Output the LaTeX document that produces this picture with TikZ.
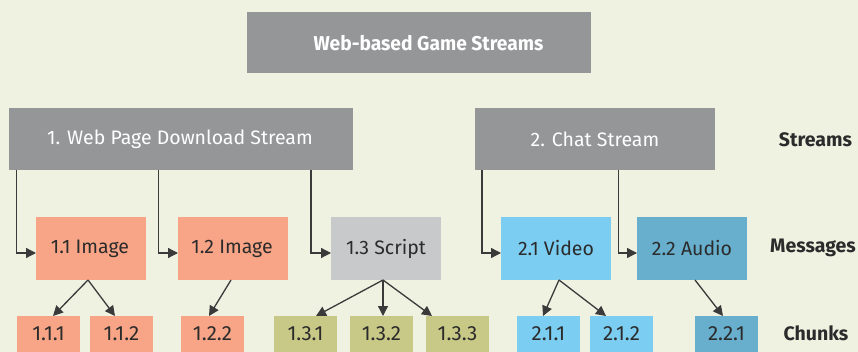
\documentclass[tikz,border=0pt]{standalone}
\usepackage{fontspec}
\setmainfont{Fira Sans}
\usetikzlibrary{arrows.meta}
\definecolor{bg}{HTML}{EFF1E1}
\definecolor{gbox}{HTML}{959698}
\definecolor{salmon}{HTML}{F7A586}
\definecolor{lgray}{HTML}{C8C9CB}
\definecolor{olive}{HTML}{C8C987}
\definecolor{lblue}{HTML}{7BCDF1}
\definecolor{dblue}{HTML}{67AFCD}
\definecolor{txt}{HTML}{2B2B2B}
\definecolor{ln}{HTML}{3A3A3A}
\tikzset{
  box/.style={inner sep=0pt, outer sep=0pt, text=txt, font=\fontsize{19.5}{22}\selectfont},
  chunk/.style={box, font=\fontsize{20.5}{23}\selectfont},
  conn/.style={draw=ln, line width=1.3pt, -{Triangle[length=10pt,width=10pt]}},
  lab/.style={font=\fontsize{19.5}{22}\selectfont\bfseries, text=txt, anchor=center, inner sep=0pt},
}
\begin{document}
\begin{tikzpicture}[x=1pt,y=-1pt]
\fill[bg] (0,0) rectangle (858,352);
\useasboundingbox (0,0) rectangle (858,352);
% title
\fill[gbox] (247,12) rectangle (591,73.5);
\node[box, text=white, font=\fontsize{20}{23}\selectfont\bfseries] (title) at (428.5,43) {\scalebox{0.96}[1]{Web-based Game Streams}};
% streams
\fill[gbox] (9,108) rectangle (353,170);
\node[box, text=white] (s1) at (180,139) {1. Web Page Download Stream};
\fill[gbox] (475,108) rectangle (715,170);
\node[box, text=white] (s2) at (595,139) {2. Chat Stream};
% messages
\fill[salmon] (36,217) rectangle (146,280);
\node[box] (m11) at (90,248.5) {1.1 Image};
\fill[salmon] (178,217) rectangle (288,280);
\node[box] (m12) at (232,248.5) {1.2 Image};
\fill[lgray] (331,217) rectangle (441,280);
\node[box] (m13) at (386,248.5) {1.3 Script};
\fill[lblue] (501,217) rectangle (611,280);
\node[box] (m21) at (556,248.5) {2.1 Video};
\fill[dblue] (637,217) rectangle (747,280);
\node[box] (m22) at (692,248.5) {2.2 Audio};
% chunks
\fill[salmon] (17,316) rectangle (80,352);
\node[chunk] (c111) at (48.5,334) {1.1.1};
\fill[salmon] (90,316) rectangle (153,352);
\node[chunk] (c112) at (121.5,334) {1.1.2};
\fill[salmon] (181,316) rectangle (244,352);
\node[chunk] (c122) at (212.5,334) {1.2.2};
\fill[olive] (274,316) rectangle (337,352);
\node[chunk] (c131) at (305.5,334) {1.3.1};
\fill[olive] (350,316) rectangle (413,352);
\node[chunk] (c132) at (381.5,334) {1.3.2};
\fill[olive] (426,316) rectangle (489,352);
\node[chunk] (c133) at (457.5,334) {1.3.3};
\fill[lblue] (517,316) rectangle (580,352);
\node[chunk] (c211) at (548.5,334) {2.1.1};
\fill[lblue] (590,316) rectangle (653,352);
\node[chunk] (c212) at (621.5,334) {2.1.2};
\fill[dblue] (695,316) rectangle (758,352);
\node[chunk] (c221) at (726.5,334) {2.2.1};
% connector coordinates
\coordinate (s1a) at (16.7,170); \coordinate (s1b) at (158.7,170); \coordinate (s1c) at (311,170);
\coordinate (s2a) at (482,170); \coordinate (s2b) at (618.7,170);
\coordinate (m11w) at (36,253); \coordinate (m12w) at (178,253); \coordinate (m13w) at (331,253);
\coordinate (m21w) at (501,253); \coordinate (m22w) at (637,253);
\draw[conn] (s1a) |- (m11w);
\draw[conn] (s1b) |- (m12w);
\draw[conn] (s1c) |- (m13w);
\draw[conn] (s2a) |- (m21w);
\draw[conn] (s2b) |- (m22w);
% chunk arrows
\coordinate (m11s) at (88,280); \coordinate (m12s) at (231,280); \coordinate (m13s) at (383,280);
\coordinate (m21s) at (559,280); \coordinate (m22s) at (695,280);
\coordinate (c111n) at (53,316); \coordinate (c112n) at (115,316); \coordinate (c122n) at (209,316);
\coordinate (c131n) at (316,316); \coordinate (c132n) at (383,316); \coordinate (c133n) at (432,316);
\coordinate (c211n) at (543,316); \coordinate (c212n) at (606,316); \coordinate (c221n) at (723,316);
\draw[conn] (m11s) -- (c111n);
\draw[conn] (m11s) -- (c112n);
\draw[conn] (m12s) -- (c122n);
\draw[conn] (m13s) -- (c131n);
\draw[conn] (m13s) -- (c132n);
\draw[conn] (m13s) -- (c133n);
\draw[conn] (m21s) -- (c211n);
\draw[conn] (m21s) -- (c212n);
\draw[conn] (m22s) -- (c221n);
% side labels
\node[lab] (ls) at (815.5,140) {Streams};
\node[lab, anchor=east] (lm) at (856,248) {Messages};
\node[lab] (lc) at (816,333) {Chunks};
\end{tikzpicture}
\end{document}
